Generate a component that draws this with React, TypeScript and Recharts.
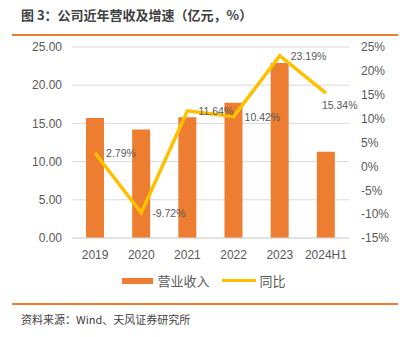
import React from "react";
import {
  Bar,
  CartesianGrid,
  ComposedChart,
  Legend,
  Line,
  XAxis,
  YAxis,
} from "recharts";

const years = ["2019", "2020", "2021", "2022", "2023", "2024H1"];
const revenue = [15.7, 14.2, 15.8, 17.7, 22.9, 11.3];
const growth = [2.79, -9.72, 11.64, 10.42, 23.19, 15.34];
const leftTicks = [0, 5, 10, 15, 20, 25];
const rightTicks = [-15, -10, -5, 0, 5, 10, 15, 20, 25];

const BAR_COLOR = "#ED7D31";
const LINE_COLOR = "#FFC000";
const TEXT_GRAY = "#595959";
const FONT = '"Liberation Sans", "Noto Sans CJK SC", sans-serif';
const CJK = '"Noto Sans CJK SC", sans-serif';

const chartData = years.map((year, i) => ({
  year,
  revenue: revenue[i],
  growth: growth[i],
}));

// growth labels sit right of the point, the last one below it
function GrowthLabel(props: any) {
  const { x, y, value, index } = props;
  const last = index === growth.length - 1;
  return (
    <text
      x={last ? x - 4 : x + 11}
      y={last ? y + 12 : y}
      fill={TEXT_GRAY}
      fontSize={10.5}
      fontFamily={FONT}
      textAnchor="start"
      dominantBaseline="central"
    >
      {value.toFixed(2)}%
    </text>
  );
}

function LegendContent() {
  return (
    <div
      style={{
        display: "flex",
        justifyContent: "center",
        alignItems: "center",
        fontFamily: CJK,
        fontSize: 13,
        color: TEXT_GRAY,
      }}
    >
      <span
        style={{ width: 31, height: 6, background: BAR_COLOR, marginRight: 4 }}
      />
      <span style={{ marginRight: 12 }}>营业收入</span>
      <span
        style={{ width: 34, height: 3, background: LINE_COLOR, marginRight: 4 }}
      />
      <span>同比</span>
    </div>
  );
}

export default function App() {
  return (
    <div
      style={{
        position: "fixed",
        left: 0,
        top: 0,
        width: 408,
        height: 337,
        background: "#fff",
      }}
    >
      <div
        style={{
          position: "absolute",
          left: 21,
          top: 6,
          fontFamily: CJK,
          fontSize: 13,
          fontWeight: 700,
          color: "#404040",
          lineHeight: "18px",
          whiteSpace: "nowrap",
        }}
      >
        图 3：公司近年营收及增速（亿元，%）
      </div>
      <div
        style={{
          position: "absolute",
          left: 12,
          top: 34,
          width: 386,
          height: 1.5,
          background: BAR_COLOR,
        }}
      />
      <div style={{ position: "absolute", left: 0, top: 0 }}>
        <ComposedChart
          width={408}
          height={300}
          data={chartData}
          margin={{ top: 47, right: 0, left: 0, bottom: 32 }}
        >
          <CartesianGrid
            yAxisId="left"
            vertical={false}
            stroke="#d9d9d9"
            strokeWidth={1}
          />
          <XAxis
            dataKey="year"
            height={30}
            tickLine={false}
            axisLine={{ stroke: "#d9d9d9" }}
            tick={{ fill: TEXT_GRAY, fontSize: 12, fontFamily: FONT }}
            tickMargin={6}
            interval={0}
          />
          <YAxis
            yAxisId="left"
            width={72}
            domain={[0, 25]}
            ticks={leftTicks}
            tickFormatter={(v: number) => v.toFixed(2)}
            axisLine={false}
            tickLine={false}
            tickMargin={4}
            tick={{ fill: TEXT_GRAY, fontSize: 12, fontFamily: FONT }}
          />
          <YAxis
            yAxisId="right"
            orientation="right"
            width={59}
            domain={[-15, 25]}
            ticks={rightTicks}
            tickFormatter={(v: number) => `${v}%`}
            axisLine={false}
            tickLine={false}
            tickMargin={6}
            tick={{ fill: TEXT_GRAY, fontSize: 12, fontFamily: FONT }}
          />
          <Legend
            layout="horizontal"
            verticalAlign="middle"
            align="center"
            content={<LegendContent />}
            wrapperStyle={{ top: 271, left: 0, width: 408 }}
          />
          <Bar
            yAxisId="left"
            dataKey="revenue"
            name="营业收入"
            fill={BAR_COLOR}
            barSize={18}
            isAnimationActive={false}
          />
          <Line
            yAxisId="right"
            dataKey="growth"
            name="同比"
            stroke={LINE_COLOR}
            strokeWidth={3.5}
            dot={false}
            activeDot={false}
            type="linear"
            label={<GrowthLabel />}
            isAnimationActive={false}
          />
        </ComposedChart>
      </div>
      <div
        style={{
          position: "absolute",
          left: 12,
          top: 303,
          width: 386,
          height: 1.5,
          background: BAR_COLOR,
        }}
      />
      <div
        style={{
          position: "absolute",
          left: 21,
          top: 311,
          fontFamily: CJK,
          fontSize: 11,
          color: "#404040",
          lineHeight: "16px",
          whiteSpace: "nowrap",
        }}
      >
        资料来源：Wind、天风证券研究所
      </div>
    </div>
  );
}
